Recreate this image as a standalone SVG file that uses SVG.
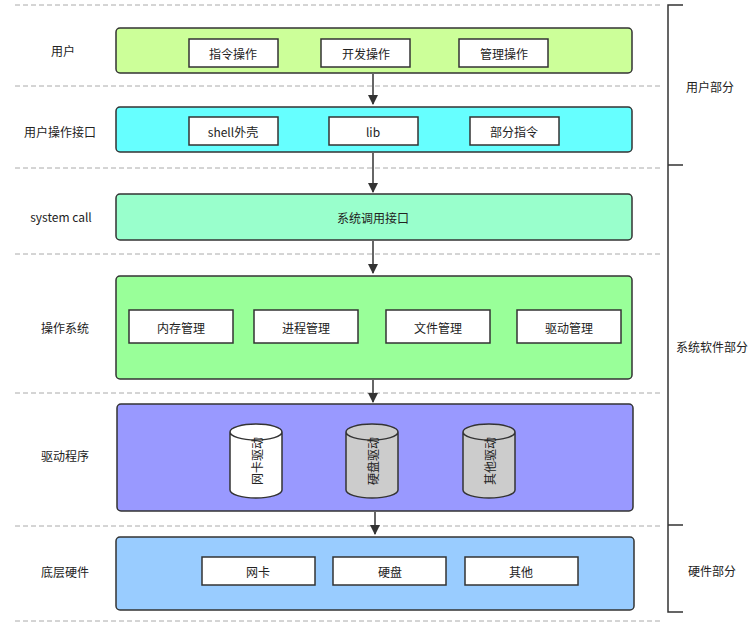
<svg xmlns="http://www.w3.org/2000/svg" width="751" height="635" viewBox="0 0 751 635">
<style>
text{font-family:"Noto Sans CJK SC","Liberation Sans",sans-serif;font-size:12px;fill:#222;text-anchor:middle;dominant-baseline:central}
.big{stroke:#333;stroke-width:1.5}
.sm{fill:#fff;stroke:#333;stroke-width:1.5}
.dash{stroke:#aaa;stroke-dasharray:5 3;fill:none}
.br{stroke:#333;stroke-width:1.5;fill:none}
.cyl{stroke:#333;stroke-width:1.5}
</style>
<defs><marker id="a" viewBox="0 0 10 10" refX="9" refY="5" markerWidth="7" markerHeight="7" orient="auto"><path d="M0,0L10,5L0,10z" fill="#333"/></marker></defs>
<rect width="751" height="635" fill="#fff"/>
<g id="grid">
<path class="dash" d="M15,5H662M15,86H662M15,168H662M15,254H662M15,393H662M15,526H662M15,621H662"/>
<path class="br" d="M683,5H668V612H683M668,165H683M668,525H683"/>
<text x="710" y="86">用户部分</text>
<text x="712" y="346">系统软件部分</text>
<text x="712" y="570">硬件部分</text>
</g>
<g id="connectors" stroke="#333" stroke-width="1.5" fill="none" marker-end="url(#a)">
<path d="M373,74V104"/><path d="M373,153V192"/><path d="M373,241V273"/><path d="M373,380V402"/><path d="M375,512V534"/>
</g>
<g id="user"><text x="63" y="50">用户</text><rect class="big" x="116" y="28" width="516" height="45" rx="4" fill="#CCFF99"/>
<rect class="sm" x="189" y="39" width="89" height="28"/><text x="233" y="53">指令操作</text>
<rect class="sm" x="321" y="39" width="89" height="28"/><text x="366" y="53">开发操作</text>
<rect class="sm" x="459" y="39" width="89" height="28"/><text x="504" y="53">管理操作</text></g>
<g id="ui"><text x="60" y="131">用户操作接口</text><rect class="big" x="116" y="107" width="516" height="45" rx="4" fill="#66FFFF"/>
<rect class="sm" x="189" y="117" width="89" height="28"/><text x="233" y="131">shell外壳</text>
<rect class="sm" x="329" y="117" width="89" height="28"/><text x="373" y="131">lib</text>
<rect class="sm" x="470" y="117" width="89" height="28"/><text x="514" y="131">部分指令</text></g>
<g id="syscall"><text x="61" y="216">system call</text><rect class="big" x="116" y="194" width="516" height="46" rx="4" fill="#99FFCC"/><text x="373" y="217">系统调用接口</text></g>
<g id="os"><text x="65" y="327">操作系统</text><rect class="big" x="116" y="276" width="516" height="103" rx="4" fill="#99FF99"/>
<rect class="sm" x="129" y="310" width="104" height="33"/><text x="181" y="327">内存管理</text>
<rect class="sm" x="254" y="310" width="104" height="33"/><text x="306" y="327">进程管理</text>
<rect class="sm" x="386" y="310" width="104" height="33"/><text x="438" y="327">文件管理</text>
<rect class="sm" x="517" y="310" width="104" height="33"/><text x="569" y="327">驱动管理</text></g>
<g id="drv"><text x="65" y="455">驱动程序</text><rect class="big" x="117" y="404" width="516" height="107" rx="4" fill="#9999FF"/>
<g><path class="cyl" fill="#fff" d="M230,432V490A26,8 0 0 0 282,490V432A26,8 0 0 0 230,432ZM230,432A26,8 0 0 0 282,432"/><text transform="translate(256,461) rotate(-90)">网卡驱动</text></g>
<g><path class="cyl" fill="#ccc" d="M346,432V490A26,8 0 0 0 398,490V432A26,8 0 0 0 346,432ZM346,432A26,8 0 0 0 398,432"/><text transform="translate(372,461) rotate(-90)">硬盘驱动</text></g>
<g><path class="cyl" fill="#ccc" d="M463,432V490A26,8 0 0 0 515,490V432A26,8 0 0 0 463,432ZM463,432A26,8 0 0 0 515,432"/><text transform="translate(489,461) rotate(-90)">其他驱动</text></g></g>
<g id="hw"><text x="65" y="571">底层硬件</text><rect class="big" x="116" y="537" width="518" height="73" rx="4" fill="#99CCFF"/>
<rect class="sm" x="202" y="557" width="113" height="28"/><text x="258" y="571">网卡</text>
<rect class="sm" x="333" y="557" width="113" height="28"/><text x="390" y="571">硬盘</text>
<rect class="sm" x="465" y="557" width="113" height="28"/><text x="521" y="571">其他</text></g>
</svg>
